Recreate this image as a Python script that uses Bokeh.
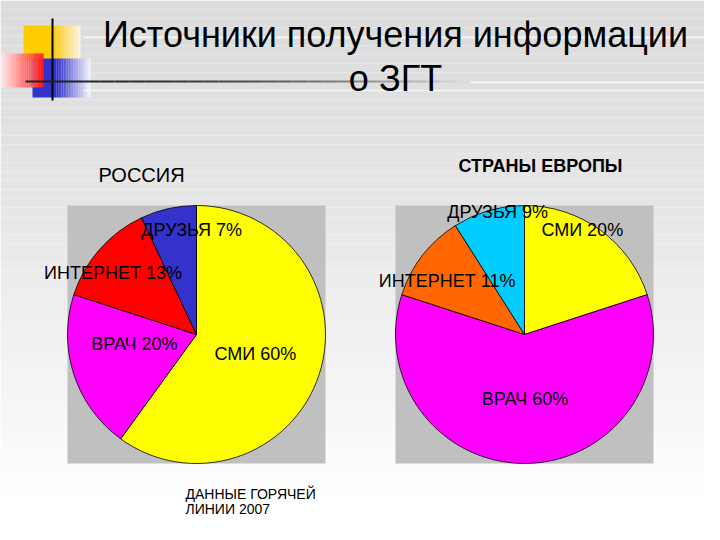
import numpy as np
from bokeh.plotting import figure
from bokeh.models import Range1d, ColumnDataSource
from bokeh.core.properties import value
from bokeh.embed import file_html
from bokeh.resources import INLINE

# ---------------- data ----------------
title_lines = ["Источники получения информации", "о ЗГТ"]
source_note = ["ДАННЫЕ ГОРЯЧЕЙ", "ЛИНИИ 2007"]

ru_title = "РОССИЯ"
ru_categories = ["СМИ", "ВРАЧ", "ИНТЕРНЕТ", "ДРУЗЬЯ"]
ru_values = [60, 20, 13, 7]
ru_labels = ["СМИ 60%", "ВРАЧ 20%", "ИНТЕРНЕТ 13%", "ДРУЗЬЯ 7%"]
ru_colors = ["#ffff00", "#ff00ff", "#ff0000", "#3333cc"]

eu_title = "СТРАНЫ ЕВРОПЫ"
eu_categories = ["СМИ", "ВРАЧ", "ИНТЕРНЕТ", "ДРУЗЬЯ"]
eu_values = [20, 60, 11, 9]
eu_labels = ["СМИ 20%", "ВРАЧ  60%", "ИНТЕРНЕТ 11%", "ДРУЗЬЯ 9%"]
eu_colors = ["#ffff00", "#ff00ff", "#ff6600", "#00ccff"]

# ---------------- layout (reference pixel coords) ----------------
W, H = 704, 524
FONT = value("Liberation Sans")


def Y(ry):
    return 540 - ry


p = figure(width=W, height=H, x_range=Range1d(0, W), y_range=Range1d(Y(H), Y(0)),
           output_backend="svg", toolbar_location=None, min_border=0)
p.axis.visible = False
p.grid.visible = False
p.outline_line_color = None
p.background_fill_color = "#ffffff"
p.border_fill_color = "#ffffff"


def lerp(c1, c2, t):
    a = [int(c1[i:i + 2], 16) for i in (1, 3, 5)]
    b = [int(c2[i:i + 2], 16) for i in (1, 3, 5)]
    return "#%02x%02x%02x" % tuple(int(round(a[k] + (b[k] - a[k]) * t)) for k in range(3))


# background vertical gradient
n = 60
tops = np.linspace(0, 540, n + 1)
p.quad(left=0, right=720, top=[Y(t) for t in tops[:-1]], bottom=[Y(t) for t in tops[1:]],
       fill_color=[lerp("#dcdcdc", "#ffffff", min(1, (t / 500) ** 1.3)) for t in tops[:-1]],
       line_color=None)


def hgrad(x0, x1, y0, y1, c0, c1, steps=20):
    xs = np.linspace(x0, x1, steps + 1)
    p.quad(left=xs[:-1], right=xs[1:], top=Y(y0), bottom=Y(y1),
           fill_color=[lerp(c0, c1, i / (steps - 1)) for i in range(steps)], line_color=None)


# decoration
p.quad(left=23, right=53, top=Y(25), bottom=Y(60), fill_color="#ffcc00", line_color=None)
hgrad(53, 80, 25, 60, "#ffcc00", "#fff6e0")
p.quad(left=32, right=56, top=Y(58), bottom=Y(97), fill_color="#3333cc", line_color=None)
hgrad(56, 90, 58, 97, "#3333cc", "#f4f4fc")
hgrad(0, 43, 53, 87, "#ffe8e8", "#ff2020")
p.segment(x0=52, y0=Y(18), x1=52, y1=Y(100), line_color="#000000", line_width=2)
xs = np.linspace(25, 470, 31)
p.segment(x0=xs[:-1], y0=Y(81), x1=xs[1:], y1=Y(81), line_width=2,
          line_color=[lerp("#202020", "#dcdcdc", (i / 29) ** 2) for i in range(30)])
p.segment(x0=[83, 707, 83, 470], y0=[Y(37), Y(37), Y(90), Y(82)],
          x1=[707, 707, 707, 707], y1=[Y(37), Y(90), Y(90), Y(82)],
          line_color="#f8f8f8", line_width=1.5)

# title
p.text(x=[395, 395], y=[Y(34), Y(78)], text=title_lines, text_font=FONT,
       text_font_size="36px", text_align="center", text_baseline="alphabetic", text_color="#000000")

# pies
R = 129


def pie(cx, cy, vals, colors, labels, factors, offsets):
    v = np.array(vals, dtype=float)
    frac = v / v.sum()
    cum = np.concatenate([[0], np.cumsum(frac)])
    start = np.pi / 2 - 2 * np.pi * cum[1:]
    end = np.pi / 2 - 2 * np.pi * cum[:-1]
    p.quad(left=cx - R, right=cx + R, top=Y(cy - R), bottom=Y(cy + R),
           fill_color="#c0c0c0", line_color=None)
    p.wedge(x=cx, y=Y(cy), radius=R, start_angle=start, end_angle=end,
            fill_color=colors, line_color="#000000", line_width=0.8)
    mid = (start + end) / 2
    lx = cx + np.array(factors) * R * np.cos(mid)
    ly = Y(cy) + np.array(factors) * R * np.sin(mid)
    src = ColumnDataSource(dict(x=lx, y=ly, t=labels,
                                xo=[o[0] for o in offsets], yo=[o[1] for o in offsets]))
    p.text(x="x", y="y", text="t", x_offset="xo", y_offset="yo", source=src,
           text_font=FONT, text_font_size="18px", text_align="center",
           text_baseline="middle", text_color="#000000")


pie(196, 334, ru_values, ru_colors, ru_labels,
    [0.48, 0.49, 0.80, 0.81], [(0, 0), (-2, -10), (-6, 7), (18, -3)])
pie(524, 334, eu_values, eu_colors, eu_labels,
    [0.92, 0.50, 0.73, 0.97], [(-12, -8), (3, 0), (-3, 4), (8, -2)])

# chart titles
p.text(x=[141], y=[Y(174)], text=[ru_title], text_font=FONT, text_font_size="20px",
       text_align="center", text_baseline="middle", text_color="#000000")
p.text(x=[540], y=[Y(165)], text=[eu_title], text_font=FONT, text_font_size="18px",
       text_font_style="bold", text_align="center", text_baseline="middle", text_color="#000000")

# source note
p.text(x=[185, 185], y=[Y(493), Y(508)], text=source_note, text_font=FONT,
       text_font_size="14px", text_align="left", text_baseline="alphabetic", text_color="#000000")

open("out.html", "w").write(file_html(p, INLINE))
